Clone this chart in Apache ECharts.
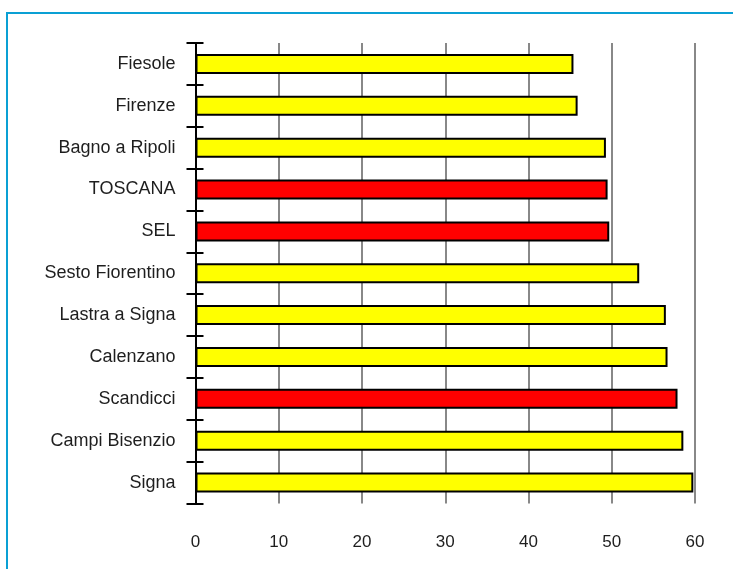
<!DOCTYPE html>
<html>
<head>
<meta charset="utf-8">
<script src="https://cdn.jsdelivr.net/npm/echarts@6/dist/echarts.min.js"></script>
<style>
  html, body { margin: 0; padding: 0; background: #fff; }
  #chart { width: 733px; height: 569px; position: relative; }
  #frame {
    position: absolute; left: 6px; top: 12px; right: -10px; bottom: -10px;
    border-left: 2px solid #0aa0d4; border-top: 2px solid #0aa0d4;
    pointer-events: none;
  }
</style>
</head>
<body>
<div id="chart"></div>
<div id="frame"></div>
<script>
// Municipalities, top to bottom
const categories = [
  'Fiesole', 'Firenze', 'Bagno a Ripoli', 'TOSCANA', 'SEL',
  'Sesto Fiorentino', 'Lastra a Signa', 'Calenzano', 'Scandicci',
  'Campi Bisenzio', 'Signa'
];
const values = [45.4, 45.9, 49.3, 49.5, 49.7, 53.3, 56.5, 56.7, 57.9, 58.6, 59.8];
// Aggregates and the reference area drawn in red
const highlighted = ['TOSCANA', 'SEL', 'Scandicci'];
const xTicks = [0, 10, 20, 30, 40, 50, 60];

const FONT = "'Liberation Sans', Arial, sans-serif";

const chart = echarts.init(document.getElementById('chart'), null, { renderer: 'canvas' });

chart.setOption({
  animation: false,
  backgroundColor: '#ffffff',
  grid: { left: 195.5, right: 38, top: 43, bottom: 65.5, containLabel: false },
  xAxis: {
    type: 'value',
    min: xTicks[0],
    max: xTicks[xTicks.length - 1],
    interval: 10,
    axisLine: { show: false },
    axisTick: { show: false },
    axisLabel: { color: '#1e1e1e', fontFamily: FONT, fontSize: 17, margin: 30 },
    splitLine: { show: true, lineStyle: { color: '#888888', width: 2 } }
  },
  yAxis: [
    {
      type: 'category',
      inverse: true,
      data: categories,
      axisLine: { show: true, lineStyle: { color: '#000', width: 2 } },
      axisTick: { show: true, length: 9, lineStyle: { color: '#000', width: 2 } },
      axisLabel: { color: '#1e1e1e', fontFamily: FONT, fontSize: 18, margin: 20 },
      splitLine: { show: false }
    },
    {
      // inner half of the cross ticks on the category axis
      type: 'category',
      inverse: true,
      position: 'left',
      data: categories,
      axisLine: { show: false },
      axisTick: { show: true, inside: true, length: 8, lineStyle: { color: '#000', width: 2 } },
      axisLabel: { show: false },
      splitLine: { show: false }
    }
  ],
  series: [{
    type: 'bar',
    yAxisIndex: 0,
    barWidth: 20,
    data: values.map((v, i) => ({
      value: v,
      itemStyle: { color: highlighted.includes(categories[i]) ? '#ff0000' : '#ffff00' }
    })),
    itemStyle: { borderColor: '#000', borderWidth: 2 }
  }]
});
</script>
</body>
</html>
